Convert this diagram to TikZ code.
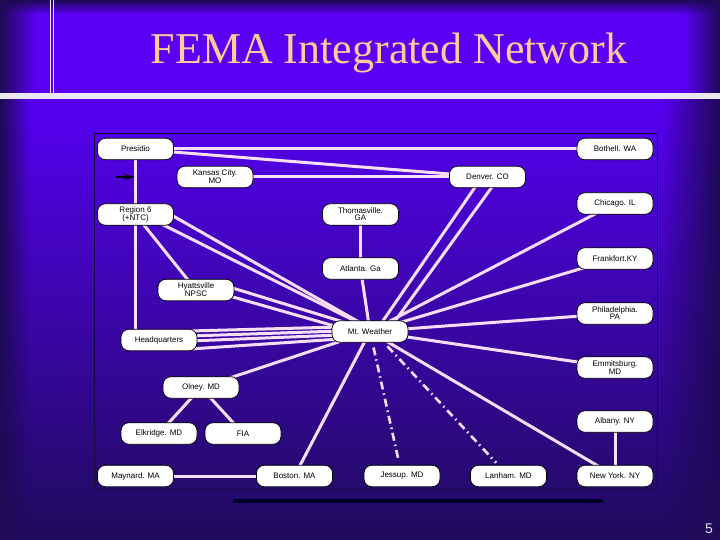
\documentclass[tikz,border=0pt]{standalone}
\usepackage{fontspec}
\setmainfont{Liberation Serif}
\setsansfont{Liberation Sans}
\newfontfamily\labelfont{Liberation Sans}
\usetikzlibrary{fadings,arrows.meta,calc}
\pgfdeclarelayer{back}
\pgfdeclarelayer{edges}
\pgfsetlayers{back,edges,main}
\definecolor{hbright}{RGB}{90,0,245}
\definecolor{edgedark}{RGB}{30,10,85}
\definecolor{ltop}{RGB}{86,0,242}
\definecolor{lmid}{RGB}{66,14,200}
\definecolor{lbot}{RGB}{31,11,92}
\definecolor{wire}{RGB}{246,222,246}
\definecolor{titlec}{RGB}{255,204,153}
\definecolor{barc}{RGB}{236,232,242}
\definecolor{framec}{RGB}{20,10,60}
\definecolor{numc}{RGB}{232,224,248}
\pgfdeclarehorizontalshading{hvig}{100bp}{color(0bp)=(edgedark); color(25bp)=(edgedark); color(27.5bp)=(hbright); color(72.5bp)=(hbright); color(75bp)=(edgedark); color(100bp)=(edgedark)}
\tikzfading[name=fadeR, left color=transparent!0, right color=transparent!100]
\tikzfading[name=fadeL, left color=transparent!100, right color=transparent!0]
\tikzfading[name=fadeD, top color=transparent!0, bottom color=transparent!100]
\begin{document}
\begin{tikzpicture}[x=1pt,y=-1pt,
  site/.style={draw=black, line width=0.7pt, fill=white, rounded corners=8pt,
    minimum width=76pt, minimum height=21.5pt, inner sep=0pt, align=center,
    font=\labelfont\fontsize{8}{7.2}\selectfont},
  wireline/.style={draw=wire, line width=3pt},
  dashwire/.style={draw=wire, line width=2.6pt, dash pattern=on 8pt off 4pt on 1.5pt off 4pt}]
\useasboundingbox (0,0) rectangle (720,540);

\begin{pgfonlayer}{back}
  % header
  \shade[shading=hvig] (0,0) rectangle (720,93);
  \fill[edgedark, path fading=fadeD] (0,0) rectangle (720,14);
  % lower area
  \shade[top color=ltop, middle color=lmid, bottom color=lbot] (0,99) rectangle (720,540);
  \fill[edgedark, path fading=fadeR] (0,99) rectangle (30,540);
  \fill[edgedark, path fading=fadeL] (662,99) rectangle (720,540);
  % white bar and double rule
  \fill[barc] (0,93) rectangle (720,99);
  \draw[barc, line width=1pt] (50.5,0) -- (50.5,93);
  \draw[barc, line width=1pt] (53.5,0) -- (53.5,93);
  % frame
  \draw[framec, line width=1pt] (94,134) rectangle (657,489);
\end{pgfonlayer}

\node[anchor=base, inner sep=0pt, text=titlec, font=\fontsize{44}{44}\selectfont] (title) at (389,64) {FEMA Integrated Network};

\node[site] (presidio) at (135.5,149) {Presidio};
\node[site] (bothell) at (615,149) {Bothell. WA};
\node[site] (kansas) at (215,177) {Kansas City.\\MO};
\node[site] (denver) at (487.5,177) {Denver. CO};
\node[site] (chicago) at (615,203.5) {Chicago. IL};
\node[site] (region) at (135.5,214.5) {Region 6\\(+NTC)};
\node[site] (thomas) at (360.5,214.5) {Thomasville.\\GA};
\node[site] (frank) at (615,258.5) {Frankfort.KY};
\node[site] (atlanta) at (360.5,268.5) {Atlanta. Ga};
\node[site] (hyatt) at (196,290) {Hyattsville\\NPSC};
\node[site] (phila) at (615,313.5) {Philadelphia.\\PA};
\node[site] (mtw) at (370,331.5) {Mt. Weather};
\node[site] (hq) at (159,340) {Headquarters};
\node[site] (emmits) at (615,367.5) {Emmitsburg.\\MD};
\node[site] (olney) at (201,387.5) {Olney. MD};
\node[site] (albany) at (615,421.5) {Albany. NY};
\node[site] (elk) at (159,433.5) {Elkridge. MD};
\node[site] (fia) at (243,433.5) {FIA};
\node[site] (maynard) at (135.5,476) {Maynard. MA};
\node[site] (boston) at (294.5,476) {Boston. MA};
\node[site] (jessup) at (402,476) {Jessup. MD};
\node[site] (lanham) at (508.5,476) {Lanham. MD};
\node[site] (newyork) at (615,476) {New York. NY};

\begin{pgfonlayer}{edges}
  \draw[wireline] (presidio.center) -- (bothell.center);
  \draw[wireline] (presidio.center) -- (denver.center);
  \draw[wireline] (kansas.center) -- (denver.center);
  \draw[wireline] (presidio.center) -- (presidio.center |- hq.center);
  \draw[wireline] (region.center) -- (hyatt.center);
  \draw[wireline] ([shift={(35,0)}]region.center) -- ([shift={(-5,-6)}]mtw.center);
  \draw[wireline] ([shift={(20,6.5)}]region.center) -- ([shift={(5,-0.5)}]mtw.center);
  \draw[wireline] ([shift={(30,-4)}]hyatt.center) -- ([shift={(-20,-7.5)}]mtw.center);
  \draw[wireline] ([shift={(30,5)}]hyatt.center) -- ([shift={(-25,-2.5)}]mtw.center);
  \draw[wireline] ([shift={(31,-9)}]hq.center) -- ([shift={(-30,-4.5)}]mtw.center);
  \draw[wireline] ([shift={(31,-4)}]hq.center) -- ([shift={(-30,-0.5)}]mtw.center);
  \draw[wireline] ([shift={(31,1)}]hq.center) -- ([shift={(-30,3.5)}]mtw.center);
  \draw[wireline] ([shift={(31,9)}]hq.center) -- ([shift={(-30,7.5)}]mtw.center);
  \draw[wireline] (thomas.center) -- (atlanta.center);
  \draw[wireline] (atlanta.center) -- (mtw.center);
  \draw[wireline] ([shift={(-7.5,3)}]denver.center) -- ([shift={(8,-3.5)}]mtw.center);
  \draw[wireline] ([shift={(9.5,3)}]denver.center) -- ([shift={(20,-3.5)}]mtw.center);
  \draw[wireline] (chicago.center) -- (mtw.center);
  \draw[wireline] (frank.center) -- (mtw.center);
  \draw[wireline] (phila.center) -- (mtw.center);
  \draw[wireline] (emmits.center) -- (mtw.center);
  \draw[wireline] (newyork.center) -- (mtw.center);
  \draw[wireline] (boston.center) -- (mtw.center);
  \draw[wireline] (olney.center) -- (mtw.center);
  \draw[wireline] (olney.center) -- (elk.center);
  \draw[wireline] (olney.center) -- (fia.center);
  \draw[wireline] (albany.center) -- (newyork.center);
  \draw[wireline] (maynard.center) -- (boston.center);
  \draw[dashwire, shorten <=5pt, shorten >=4pt] (mtw) -- (jessup);
  \draw[dashwire, shorten <=5pt, shorten >=3pt] ([xshift=14pt]mtw.south) -- (lanham);
\end{pgfonlayer}

% small black pointer
\coordinate (ptrA) at (116,177);
\coordinate (ptrB) at (135,177);
\draw[black, line width=1.6pt, -{Stealth[length=11pt,width=6pt]}] (ptrA) -- (ptrB);

% thick bar under the frame
\coordinate (barL) at (233,500.5);
\coordinate (barR) at (603,500.5);
\draw[line width=4pt, black!85!blue] (barL) -- (barR);

\node[anchor=base, inner sep=0pt, text=numc, font=\sffamily\fontsize{14}{14}\selectfont] (pagenum) at (709,533) {5};
\end{tikzpicture}
\end{document}
